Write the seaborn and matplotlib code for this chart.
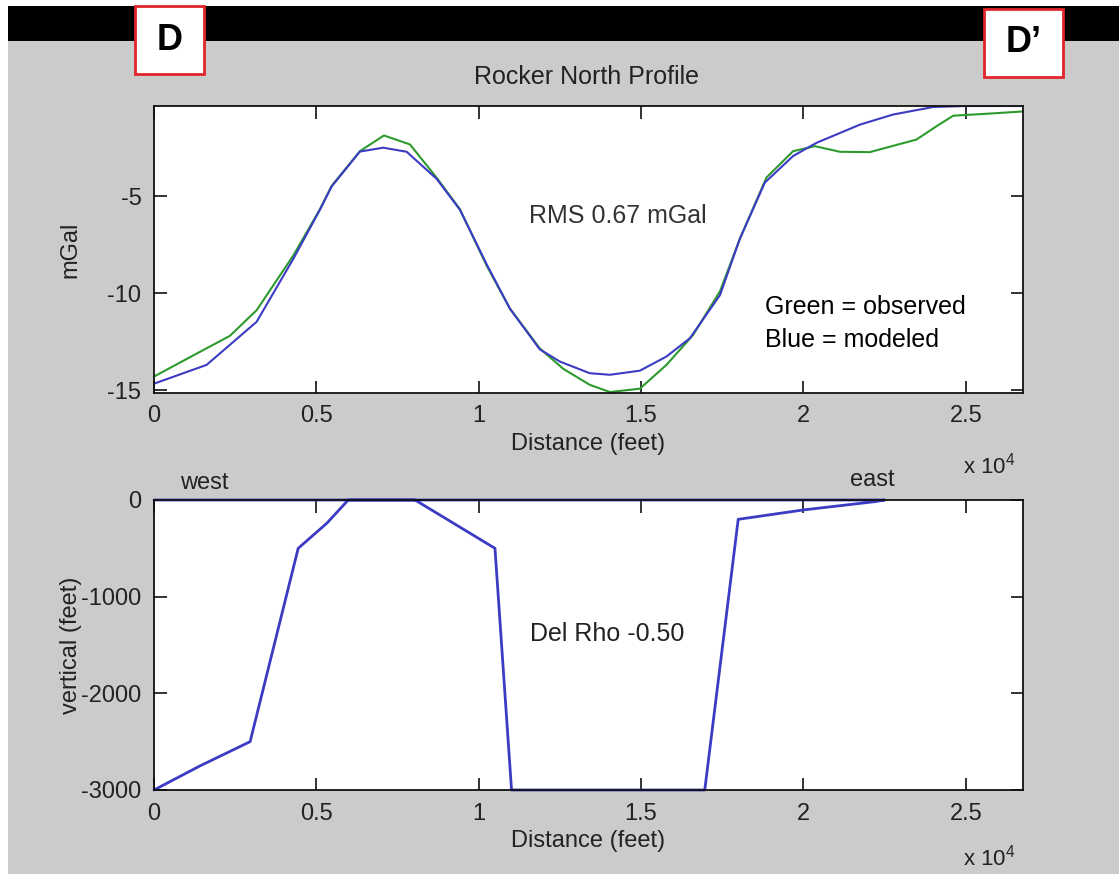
import seaborn as sns
import matplotlib.pyplot as plt
from matplotlib.patches import Rectangle
from matplotlib.ticker import FuncFormatter

# observed / modeled gravity profile (distance in feet, mGal)
green_x = [0, 1000, 2340, 3160, 4290, 5110, 5470, 6340, 7080, 7880, 8700, 9420,
           10240, 10960, 11880, 12600, 13420, 14040, 14960, 15780, 16600, 17430,
           18040, 18860, 19680, 20350, 21120, 22040, 23480, 24100, 24610, 25740, 26760]
green_y = [-14.30, -13.4, -12.2, -10.88, -8.06, -5.67, -4.47, -2.68, -1.87, -2.33,
           -4.04, -5.67, -8.57, -10.8, -12.85, -13.9, -14.73, -15.1, -14.93, -13.7,
           -12.16, -9.9, -7.2, -4.04, -2.68, -2.42, -2.71, -2.73, -2.08, -1.39,
           -0.85, -0.74, -0.63]

blue_x = [0, 1620, 3160, 4290, 5110, 5470, 6340, 7060, 7780, 8700, 9420, 10240,
          10960, 11880, 12500, 13420, 14040, 14960, 15780, 16500, 17430, 18040,
          18810, 19680, 20400, 21740, 22760, 24000, 25000, 26760]
blue_y = [-14.67, -13.70, -11.48, -8.23, -5.7, -4.5, -2.7, -2.5, -2.71, -4.1, -5.7,
          -8.5, -10.8, -12.9, -13.53, -14.13, -14.21, -14.0, -13.27, -12.33, -10.1,
          -7.2, -4.3, -2.93, -2.25, -1.31, -0.79, -0.40, -0.35, -0.35]

# density body outline (distance, depth in feet)
body_x = [0, 1420, 2960, 4440, 5320, 5980, 8040, 10500, 11010, 16960, 17990,
          19990, 22200, 22500, 0]
body_z = [-3000, -2750, -2500, -500, -241, 0, 0, -500, -3000, -3000, -200,
          -103, -17, 0, 0]

x_ticks = [0, 5000, 10000, 15000, 20000, 25000]

sns.set_style("ticks")
plt.rcParams['font.family'] = ['Liberation Sans', 'DejaVu Sans']
plt.rcParams['mathtext.fontset'] = 'custom'
plt.rcParams['mathtext.rm'] = 'Liberation Sans'
plt.rcParams['mathtext.it'] = 'Liberation Sans'
plt.rcParams['axes.unicode_minus'] = False

W, H = 1119, 874
fig = plt.figure(figsize=(W / 100, H / 100), dpi=100, facecolor='white')

# background: gray panel and black band
fig.add_artist(Rectangle((8 / W, 0), 1, 1 - 41 / H, transform=fig.transFigure,
                         facecolor='#cbcbcb', edgecolor='none', zorder=-10))
fig.add_artist(Rectangle((8 / W, 1 - 41 / H), 1, 35 / H, transform=fig.transFigure,
                         facecolor='black', edgecolor='none', zorder=-10))

# D / D' boxes
for (bx0, bx1, by0, by1, lab) in [(135, 204, 6, 74, 'D'), (984, 1063, 9, 77, 'D\u2019')]:
    fig.add_artist(Rectangle((bx0 / W, 1 - by1 / H), (bx1 - bx0) / W, (by1 - by0) / H,
                             transform=fig.transFigure, facecolor='white',
                             edgecolor='#e0262b', lw=2))
    fig.text((bx0 + bx1) / 2 / W, 1 - (by0 + by1) / 2 / H, lab, fontsize=26,
             fontweight='bold', ha='center', va='center', color='black')

blue = '#3b3bc4'
green = '#2e9a2e'
tick_col = '#222222'

ax1 = fig.add_axes([154 / W, 1 - 393 / H, 869 / W, 287 / H])
ax2 = fig.add_axes([154 / W, 1 - 790 / H, 869 / W, 290 / H])

sns.lineplot(x=green_x, y=green_y, ax=ax1, color=green, lw=1.5, sort=False, estimator=None)
sns.lineplot(x=blue_x, y=blue_y, ax=ax1, color=blue, lw=1.5, sort=False, estimator=None)
ax1.set_ylim(-15.15, -0.35)
ax1.set_yticks([-15, -10, -5])

sns.lineplot(x=body_x, y=body_z, ax=ax2, color=blue, lw=2, sort=False, estimator=None)
for ln in ax2.get_lines():
    ln.set_clip_on(False)
ax2.set_ylim(-3000, 0)
ax2.set_yticks([-3000, -2000, -1000, 0])

fmt = FuncFormatter(lambda v, p: ('%g' % (v / 1e4)))
for ax in (ax1, ax2):
    ax.set_xlim(0, 26760)
    ax.set_xticks(x_ticks)
    ax.xaxis.set_major_formatter(fmt)
    ax.set_facecolor('white')
    ax.tick_params(direction='in', top=True, right=True, length=9, width=1.2,
                   labelsize=17, labelcolor=tick_col, pad=9, color='#111111')
    for s in ax.spines.values():
        s.set_color('#111111')
        s.set_linewidth(1.3)
    ax.set_xlabel('Distance (feet)', fontsize=17, color=tick_col, labelpad=4)

ax1.set_ylabel('mGal', fontsize=17, color=tick_col)
ax2.set_ylabel('vertical (feet)', fontsize=17, color=tick_col)
ax1.yaxis.set_label_coords(-0.083, 0.5)
ax2.yaxis.set_label_coords(-0.083, 0.5)

fig.text(587 / W, 1 - 77 / H, 'Rocker North Profile', fontsize=18, color=tick_col,
         ha='center', va='center')
fig.text(618 / W, 1 - 216 / H, 'RMS 0.67 mGal', fontsize=18, color='#333333',
         ha='center', va='center')
fig.text(765 / W, 1 - 307 / H, 'Green = observed', fontsize=18, color='black',
         ha='left', va='center')
fig.text(765 / W, 1 - 340 / H, 'Blue = modeled', fontsize=18, color='black',
         ha='left', va='center')
fig.text(607 / W, 1 - 634 / H, 'Del Rho -0.50', fontsize=18, color='#222222',
         ha='center', va='center')
fig.text(180 / W, 1 - 483 / H, 'west', fontsize=17, color=tick_col, ha='left', va='center')
fig.text(850 / W, 1 - 480 / H, 'east', fontsize=17, color=tick_col, ha='left', va='center')
for yy in (466, 858):
    fig.text(963 / W, 1 - yy / H, r'x 10$^{4}$', fontsize=16, color=tick_col,
             ha='left', va='center')

plt.savefig('out.png', dpi=100, facecolor='white')
